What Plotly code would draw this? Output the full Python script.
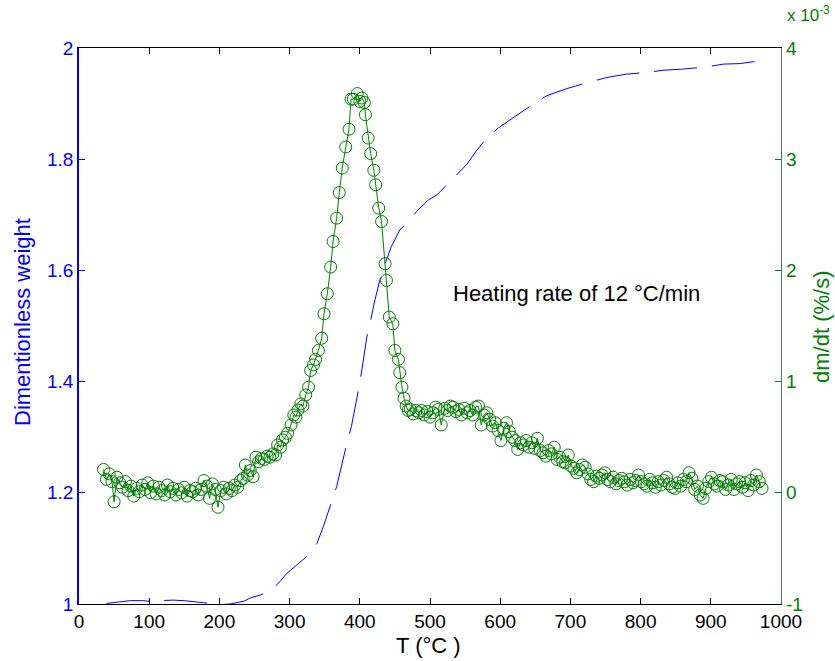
import plotly.graph_objects as go

# ---------------- data ----------------
# Dimensionless weight (left axis)
T_weight = [39, 50, 60, 73, 90, 100, 115, 134, 150, 165, 177, 190, 201, 215, 225, 235,
            244, 258, 268, 279, 288, 296, 310, 324, 339, 348, 357.5, 367, 381, 388, 400,
            405, 410, 414.5, 421.6, 431, 437, 445, 457, 467, 481, 498, 510, 524, 538, 552,
            566, 578, 597, 623, 647, 666, 695, 725, 752, 780, 809, 832, 860, 894, 918,
            942, 960, 970, 975]
weight = [1.001, 1.003, 1.004, 1.006, 1.006, 1.005, 1.006, 1.007, 1.006, 1.004, 1.002,
          1.000, 0.999, 1.000, 1.002, 1.005, 1.011, 1.016, 1.022, 1.031, 1.043, 1.055,
          1.070, 1.085, 1.109, 1.139, 1.175, 1.211, 1.286, 1.319, 1.397, 1.435, 1.480,
          1.505, 1.547, 1.595, 1.616, 1.643, 1.673, 1.685, 1.706, 1.727, 1.736, 1.754,
          1.772, 1.790, 1.815, 1.834, 1.856, 1.879, 1.899, 1.914, 1.927, 1.938, 1.947,
          1.953, 1.956, 1.960, 1.962, 1.966, 1.971, 1.972, 1.975, 1.977, 1.974]

# dm/dt in units of 1e-3 %/s (right axis)
T_rate = [35, 39, 43, 47, 50, 54, 58, 62, 66, 70, 74, 78, 82, 86, 90, 94, 98, 102, 106,
          110, 114, 118, 122, 126, 130, 134, 138, 142, 146, 150, 154, 158, 162, 166, 170,
          174, 178, 182, 186, 190, 194, 198, 202, 206, 210, 214, 218, 222, 226, 230, 234,
          237, 240, 244, 248, 252, 256, 260, 264, 268, 272, 276, 280, 283, 287, 290, 294,
          297, 302, 306, 309, 312, 316, 319, 323, 327, 330, 334, 337, 341, 345.7, 349,
          353.7, 358.5, 362, 367, 370.8, 375, 380, 384.6, 387.5, 390.7, 396.4, 400, 403,
          406.4, 408, 412, 415.5, 420, 422.6, 427, 431, 436, 438, 442, 447, 450, 455, 457,
          460, 463, 466, 469, 472, 476, 480, 484, 488, 492, 496, 500, 504, 508, 512, 516,
          521, 525, 529, 533, 537, 541, 545, 549, 553, 557, 561, 565, 569, 573, 577, 581,
          585, 589, 593, 597, 601, 605, 609, 613, 617, 621, 625, 629, 633, 637, 641, 645,
          649, 653, 657, 661, 665, 669, 673, 677, 681, 685, 689, 693, 697, 701, 705, 709,
          713, 717, 721, 725, 729, 733, 737, 741, 745, 749, 753, 757, 761, 765, 769, 773,
          777, 781, 785, 789, 793, 797, 801, 805, 809, 813, 817, 821, 825, 829, 833, 837,
          841, 845, 849, 853, 857, 861, 865, 869, 873, 877, 881, 885, 889, 893, 897, 901,
          905, 909, 913, 917, 921, 925, 929, 933, 937, 941, 945, 949, 953, 957, 961, 965,
          969, 973]
rate = [0.21, 0.12, 0.17, 0.10, -0.08, 0.14, 0.09, 0.05, 0.10, 0.02, 0.06, -0.03, 0.04,
        0.01, 0.07, 0.03, 0.09, 0.00, 0.06, -0.01, 0.05, 0.02, -0.02, 0.07, 0.01, 0.04,
        -0.02, 0.03, 0.00, 0.05, -0.03, 0.02, 0.01, 0.04, -0.02, 0.03, 0.11, 0.06, -0.05,
        0.08, 0.03, -0.13, 0.02, 0.05, -0.01, 0.04, 0.02, 0.07, 0.05, 0.11, 0.13,
        0.25, 0.16, 0.20, 0.145, 0.32, 0.28, 0.31, 0.30, 0.33, 0.32, 0.35, 0.34, 0.43,
        0.41, 0.475, 0.50, 0.535, 0.61, 0.70, 0.68, 0.745, 0.80, 0.78, 0.88, 0.95, 1.10,
        1.15, 1.20, 1.28, 1.39, 1.61, 1.79, 2.03, 2.26, 2.47, 2.70, 2.92, 3.11, 3.27,
        3.54, 3.54, 3.59, 3.52, 3.55, 3.51, 3.40, 3.19, 3.05, 2.90, 2.77, 2.56, 2.44,
        2.06, 1.91, 1.58, 1.52, 1.28, 1.20, 1.08,
        0.95, 0.85, 0.78, 0.74, 0.75, 0.71, 0.74, 0.72, 0.74, 0.70, 0.73, 0.68, 0.72,
        0.77, 0.75, 0.61, 0.76, 0.74, 0.78, 0.77, 0.73, 0.75, 0.70, 0.76, 0.72, 0.74,
        0.70, 0.77, 0.78, 0.61, 0.70, 0.72, 0.66, 0.60, 0.63, 0.56, 0.47, 0.58, 0.63,
        0.55, 0.50, 0.47, 0.39, 0.45, 0.43, 0.47, 0.41, 0.45, 0.40, 0.49, 0.38, 0.36,
        0.33, 0.38, 0.35, 0.41, 0.30, 0.32, 0.28, 0.27, 0.34, 0.24, 0.22, 0.18, 0.21,
        0.25, 0.23, 0.17, 0.12, 0.10, 0.15, 0.13, 0.16, 0.18, 0.12, 0.10, 0.14, 0.08,
        0.11, 0.13, 0.10, 0.07, 0.12, 0.09, 0.11, 0.16, 0.10, 0.08, 0.06, 0.12, 0.09,
        0.05, 0.10, 0.07, 0.11, 0.14, 0.08, 0.05, 0.04, 0.09, 0.06, 0.12, 0.10, 0.18,
        0.13, 0.03, 0.06, -0.02, -0.05, 0.04, 0.10, 0.14, 0.08, 0.06, 0.11, 0.10, 0.03,
        0.07, 0.12, 0.03, 0.08, 0.10, 0.05, 0.09, 0.02, 0.11, 0.07, 0.16, 0.10, 0.04]

x_ticks = [0, 100, 200, 300, 400, 500, 600, 700, 800, 900, 1000]
y_left_ticks = [1.0, 1.2, 1.4, 1.6, 1.8, 2.0]
y_left_labels = ["1", "1.2", "1.4", "1.6", "1.8", "2"]
y_right_ticks = [-1, 0, 1, 2, 3, 4]
y_right_labels = ["-1", "0", "1", "2", "3", "4"]

# ---------------- style ----------------
BLUE = "#0000ff"
GREEN = "#008000"
FONT = "Liberation Sans, Arial, sans-serif"
W, H = 835, 661
L, R, TOP, B = 79, 54, 48, 57
PW, PH = W - L - R, H - TOP - B


def px(x):
    return (x - L) / PW


def py(y):
    return (H - B - y) / PH


fig = go.Figure()
fig.add_trace(go.Scatter(
    x=T_rate, y=rate, yaxis="y2", mode="lines+markers",
    line=dict(color=GREEN, width=1),
    marker=dict(symbol="circle-open", size=12, color=GREEN, line=dict(width=1, color=GREEN)),
    showlegend=False, hoverinfo="skip"))
fig.add_trace(go.Scatter(
    x=T_weight, y=weight, yaxis="y", mode="lines",
    line=dict(color=BLUE, width=1, dash="43px,15px"),
    showlegend=False, hoverinfo="skip"))

fig.update_layout(
    width=W, height=H,
    margin=dict(l=L, r=R, t=TOP, b=B, pad=0),
    paper_bgcolor="white", plot_bgcolor="white",
    font=dict(family=FONT, size=19, color="black"),
    xaxis=dict(range=[0, 1000], tickvals=x_ticks, ticks="inside", ticklen=6,
               tickcolor="black", showline=True, linecolor="black", linewidth=1,
               mirror="ticks", showgrid=False, zeroline=False,
               tickfont=dict(size=19, color="black", family=FONT)),
    yaxis=dict(range=[1, 2], tickvals=y_left_ticks, ticktext=y_left_labels,
               ticks="inside", ticklen=6, tickcolor=BLUE, showline=True,
               linecolor=BLUE, linewidth=1.5, showgrid=False, zeroline=False,
               tickfont=dict(size=19, color=BLUE, family=FONT)),
    yaxis2=dict(range=[-1, 4], tickvals=y_right_ticks, ticktext=y_right_labels,
                overlaying="y", side="right", ticks="inside", ticklen=6,
                tickcolor=GREEN, showline=True, linecolor="#4f6f90", linewidth=1.2,
                showgrid=False, zeroline=False,
                tickfont=dict(size=19, color=GREEN, family=FONT)),
    annotations=[
        dict(text="Dimentionless weight", textangle=-90, xref="paper", yref="paper",
             x=px(22), y=py(322), showarrow=False, xanchor="center", yanchor="middle",
             font=dict(size=22, color=BLUE, family=FONT)),
        dict(text="dm/dt (%/s)", textangle=-90, xref="paper", yref="paper",
             x=px(821), y=py(327), showarrow=False, xanchor="center", yanchor="middle",
             font=dict(size=22, color=GREEN, family=FONT)),
        dict(text="T (°C )", xref="paper", yref="paper",
             x=px(428), y=py(645), showarrow=False, xanchor="center", yanchor="middle",
             font=dict(size=22, color="black", family=FONT)),
        dict(text="Heating rate of 12 °C/min", xref="paper", yref="paper",
             x=px(451), y=py(293), showarrow=False, xanchor="left", yanchor="middle",
             font=dict(size=22, color="black", family=FONT)),
        dict(text="x 10<sup>-3</sup>", xref="paper", yref="paper",
             x=px(832), y=py(14), showarrow=False, xanchor="right", yanchor="middle",
             font=dict(size=17, color=GREEN, family=FONT)),
    ],
)

fig.write_html("out.html")
